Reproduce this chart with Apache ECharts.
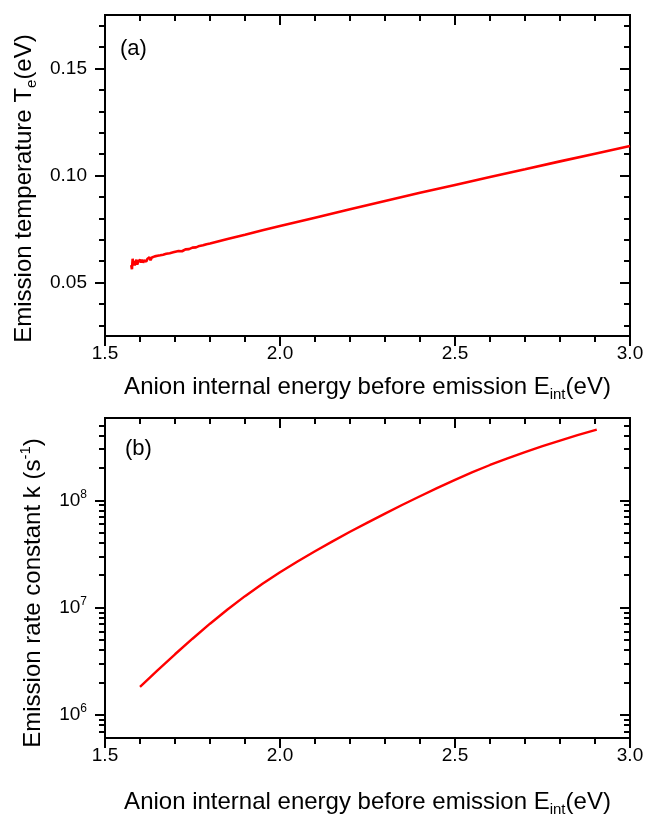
<!DOCTYPE html>
<html>
<head>
<meta charset="utf-8">
<script src="https://cdn.jsdelivr.net/npm/echarts@6/dist/echarts.min.js"></script>
<style>
  html, body { margin: 0; padding: 0; background: #fff; }
  #chart { width: 648px; height: 818px; }
</style>
</head>
<body>
<div id="chart"></div>
<script>
// panel (a): emission temperature vs internal energy (noisy at the low end)
const tempE = [1.575, 1.577, 1.579, 1.581, 1.583, 1.585, 1.588, 1.590, 1.592, 1.595,
  1.597, 1.600, 1.603, 1.606, 1.609, 1.612, 1.615, 1.618, 1.621, 1.624,
  1.627, 1.630, 1.634, 1.638, 1.642, 1.646, 1.650, 1.654, 1.658, 1.662,
  1.666, 1.670, 1.675, 1.680, 1.685, 1.690, 1.695, 1.700, 1.710, 1.720,
  1.730, 1.740, 1.750, 1.760, 1.770, 1.780, 1.790, 1.800, 1.85, 1.9,
  1.95, 2.0, 2.1, 2.2, 2.3, 2.4, 2.5, 2.6, 2.7, 2.8, 2.9, 3.0];
const tempT = [0.0582, 0.0562, 0.0611, 0.0580, 0.0601, 0.0580, 0.0597, 0.0607, 0.0584, 0.0597,
  0.0589, 0.0607, 0.0593, 0.0607, 0.0593, 0.0603, 0.0612, 0.0598, 0.0610, 0.0604,
  0.0618, 0.0604, 0.0617, 0.0609, 0.0622, 0.0613, 0.0625, 0.0618, 0.0627, 0.0619,
  0.0630, 0.0626, 0.0634, 0.0628, 0.0637, 0.0633, 0.0641, 0.0637, 0.0647, 0.0646,
  0.0655, 0.0656, 0.0663, 0.0664, 0.0671, 0.0674, 0.0679, 0.0682, 0.0703, 0.0723,
  0.0744, 0.0764, 0.0803, 0.0842, 0.0881, 0.0919, 0.0956, 0.0993, 0.1029, 0.1066, 0.1102, 0.1138];

// panel (b): emission rate constant vs internal energy
const rateE = [1.60, 1.65, 1.70, 1.75, 1.80, 1.85, 1.90, 1.95, 2.00, 2.05,
  2.10, 2.15, 2.20, 2.25, 2.30, 2.35, 2.40, 2.45, 2.50, 2.55,
  2.60, 2.65, 2.70, 2.75, 2.80, 2.85, 2.905];
const rateK = [1.824e6, 2.594e6, 3.664e6, 5.117e6, 7.063e6, 9.572e6, 1.276e7, 1.663e7, 2.133e7, 2.685e7,
  3.350e7, 4.140e7, 5.082e7, 6.194e7, 7.516e7, 9.078e7, 1.091e8, 1.306e8, 1.552e8, 1.828e8,
  2.133e8, 2.460e8, 2.812e8, 3.192e8, 3.606e8, 4.055e8, 4.56e8];

// ticks
const xMajor = [1.5, 2.0, 2.5, 3.0];
const xMinor = [1.6, 1.7, 1.8, 1.9, 2.1, 2.2, 2.3, 2.4, 2.6, 2.7, 2.8, 2.9];
const tMajor = [0.05, 0.10, 0.15];
const tMinor = [0.03, 0.04, 0.06, 0.07, 0.08, 0.09, 0.11, 0.12, 0.13, 0.14, 0.16, 0.17];
const kMajor = [1e6, 1e7, 1e8];
const kMinor = [7e5, 8e5, 9e5, 2e6, 3e6, 4e6, 5e6, 6e6, 7e6, 8e6, 9e6,
  2e7, 3e7, 4e7, 5e7, 6e7, 7e7, 8e7, 9e7, 2e8, 3e8, 4e8, 5e8];

const FONT = 'Liberation Sans';
const INK = '#000';

// one axis; labelled ones get text, the rest only carry ticks
function makeAxis(grid, position, range, ticks, len, inside, label, name) {
  const ax = {
    type: range.type || 'value',
    gridIndex: grid,
    position: position,
    min: range.min,
    max: range.max,
    axisLine: { show: true, onZero: false, lineStyle: { color: INK, width: 2 } },
    axisTick: { show: true, inside: inside, length: len, customValues: ticks,
      lineStyle: { color: INK, width: 2 } },
    axisLabel: { show: false },
    splitLine: { show: false },
    minorTick: { show: false },
  };
  if (range.type === 'log') ax.logBase = 10;
  if (label) ax.axisLabel = label;
  if (name) Object.assign(ax, name);
  return ax;
}

const xRange = { min: 1.5, max: 3.0 };
const tRange = { min: 0.025, max: 0.175 };
const kRange = { type: 'log', min: 6.07e5, max: 5.85e8 };

const nameStyle = {
  fontFamily: FONT, fontSize: 24, color: INK, lineHeight: 30,
  rich: {
    sub: { fontFamily: FONT, fontSize: 15, color: INK, lineHeight: 14, verticalAlign: 'bottom' },
    sup: { fontFamily: FONT, fontSize: 15, color: INK, lineHeight: 14, verticalAlign: 'top' },
  },
};

const xLabel = {
  show: true, margin: 8, fontFamily: FONT, fontSize: 19, color: INK,
  customValues: xMajor, formatter: (v) => v.toFixed(1),
};

function xAxesFor(grid, gap) {
  return [
    makeAxis(grid, 'bottom', xRange, xMajor, 10, false, xLabel, {
      name: 'Anion internal energy before emission E{sub|int}(eV)',
      nameLocation: 'middle', nameGap: gap, nameTextStyle: nameStyle,
    }),
    makeAxis(grid, 'bottom', xRange, xMinor, 6, false),
    makeAxis(grid, 'top', xRange, xMajor, 10, true),
    makeAxis(grid, 'top', xRange, xMinor, 6, true),
  ];
}

function yAxesFor(grid, range, major, minor, label, name) {
  return [
    makeAxis(grid, 'left', range, major, 10, false, label, name),
    makeAxis(grid, 'left', range, minor, 6, false),
    makeAxis(grid, 'right', range, major, 10, true),
    makeAxis(grid, 'right', range, minor, 6, true),
  ];
}

const chart = echarts.init(document.getElementById('chart'), null, { renderer: 'canvas' });

const option = {
  backgroundColor: '#fff',
  animation: false,
  grid: [
    { left: 105, top: 15, width: 525, height: 321 },
    { left: 105, top: 418, width: 525, height: 320 },
  ],
  xAxis: [...xAxesFor(0, 36), ...xAxesFor(1, 49)],
  yAxis: [
    ...yAxesFor(0, tRange, tMajor, tMinor, {
      show: true, margin: 18, fontFamily: FONT, fontSize: 19, color: INK,
      customValues: tMajor, formatter: (v) => v.toFixed(2),
    }, {
      name: 'Emission temperature T{sub|e}(eV)',
      nameLocation: 'middle', nameGap: 59,
      nameTextStyle: Object.assign({}, nameStyle, { padding: [0, 26, 0, 0] }),
    }),
    ...yAxesFor(1, kRange, kMajor, kMinor, {
      show: true, margin: 18, fontFamily: FONT, fontSize: 19, color: INK,
      customValues: kMajor,
      formatter: (v) => '{b|10}{s|' + Math.round(Math.log10(v)) + '}',
      rich: {
        b: { fontFamily: FONT, fontSize: 19, color: INK, lineHeight: 24 },
        s: { fontFamily: FONT, fontSize: 12, color: INK, lineHeight: 12, verticalAlign: 'top' },
      },
    }, {
      name: 'Emission rate constant k (s{sup|-1})',
      nameLocation: 'middle', nameGap: 52,
      nameTextStyle: Object.assign({}, nameStyle, { padding: [0, 30, 0, 0] }),
    }),
  ],
  graphic: [
    { type: 'text', left: 120, top: 38,
      style: { text: '(a)', fontFamily: FONT, fontSize: 22, fill: INK } },
    { type: 'text', left: 125, top: 438,
      style: { text: '(b)', fontFamily: FONT, fontSize: 22, fill: INK } },
  ],
  series: [
    {
      type: 'line', xAxisIndex: 0, yAxisIndex: 0, showSymbol: false,
      data: tempE.map((e, i) => [e, tempT[i]]),
      lineStyle: { color: '#ff0000', width: 2.6 },
    },
    {
      type: 'line', xAxisIndex: 4, yAxisIndex: 4, showSymbol: false,
      data: rateE.map((e, i) => [e, rateK[i]]),
      lineStyle: { color: '#ff0000', width: 2.4 },
    },
  ],
};

chart.setOption(option);
</script>
</body>
</html>
